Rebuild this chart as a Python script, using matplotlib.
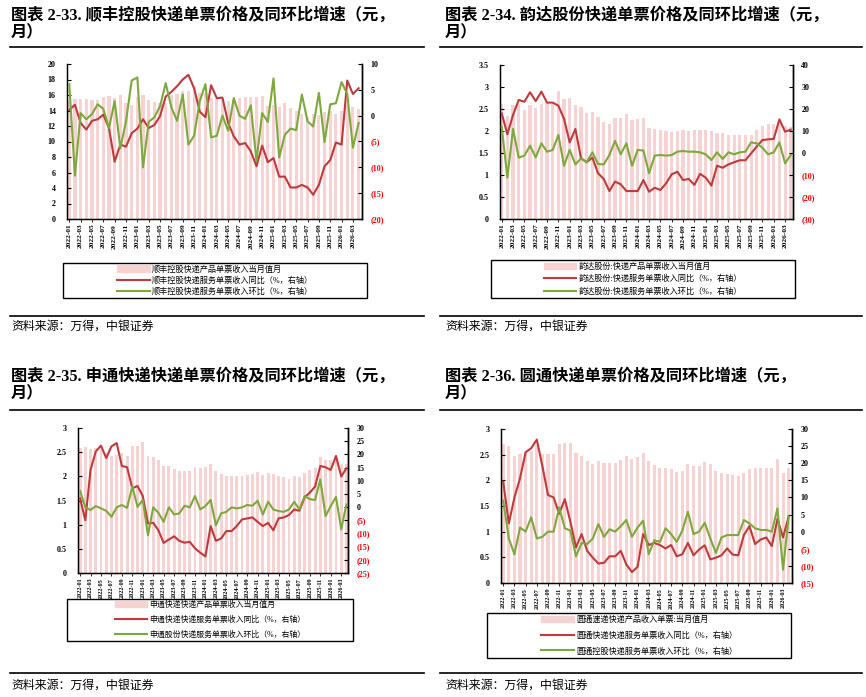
import matplotlib
matplotlib.use("Agg")
import matplotlib.pyplot as plt
from matplotlib.lines import Line2D
from matplotlib.patches import Rectangle
import numpy as np

plt.rcParams['font.family'] = ['Liberation Serif', 'Noto Sans CJK SC']

W, H = 866, 697

# ---------------- data ----------------
months = []
for y in range(2022, 2027):
    for m in range(1, 13):
        months.append(f"{y}-{m:02d}")
months = months[:52]
tick_labels = months[::2]

sf_price = [15.2, 15.5, 15.5, 15.5, 15.4, 15.4, 15.8, 15.9, 15.6, 16.0, 15.0, 14.7, 15.8,
            16.0, 15.4, 15.1, 15.0, 15.0, 16.0, 16.1, 16.5, 16.5, 17.1, 16.2, 16.3, 15.6,
            15.5, 15.5, 15.2, 15.3, 15.6, 15.7, 15.7, 15.7, 15.9, 14.6, 14.7, 14.5, 15.0,
            14.3, 13.9, 13.5, 13.1, 13.5, 13.4, 13.8, 13.9, 13.5, 13.9, 14.7, 14.4, 14.2]
sf_yoy = [1.1, 2.1, -1.4, -2.7, -1.0, -0.7, 0.2, -2.4, -8.9, -5.6, -6.0, -3.4, -2.5,
          -0.7, -2.4, -1.8, -0.1, 3.7, 4.6, 5.7, 7.0, 7.9, 5.3, 0.8, -0.3, 5.9,
          3.4, 3.5, -1.4, -4.0, -5.6, -5.3, -6.9, -9.8, -5.8, -9.0, -8.2, -11.8, -11.8,
          -13.9, -13.9, -13.4, -13.9, -15.3, -13.4, -9.8, -8.6, -5.2, -5.6, 6.8, 4.2, 5.3]
sf_mom = [6.1, -11.6, 0.5, -0.7, 0.3, 2.2, 1.3, -2.4, 2.8, -6.3, -1.1, 6.8, 7.4,
          -10.0, -1.2, -0.3, 1.8, 6.3, 1.6, -1.0, 4.1, -5.6, -3.9, 2.8, 6.1, -4.2,
          -3.9, 0.0, -2.9, 3.4, 0.0, -0.6, 2.0, -8.8, 0.5, -1.2, 7.2, -8.1, -3.7,
          -2.5, -2.8, 4.1, -1.1, -2.1, 4.4, -5.1, 2.2, 2.4, 6.5, 4.2, -6.2, -1.4]

yd_price = [2.62, 2.35, 2.60, 2.62, 2.48, 2.58, 2.52, 2.62, 2.65, 2.62, 2.90, 2.72, 2.75,
            2.60, 2.55, 2.42, 2.44, 2.32, 2.20, 2.17, 2.29, 2.29, 2.38, 2.25, 2.27, 2.29,
            2.07, 2.05, 2.03, 2.00, 1.97, 2.00, 2.02, 2.01, 2.03, 2.03, 2.02, 2.01, 1.95,
            1.95, 1.91, 1.91, 1.91, 1.91, 1.91, 2.02, 2.11, 2.17, 2.16, 2.16, 2.12, 2.08]
yd_yoy = [18.0, 8.5, 17.3, 24.1, 23.3, 27.6, 23.6, 27.9, 22.9, 22.9, 21.5, 15.5, 4.8,
          10.9, -2.4, -4.2, -2.1, -9.2, -11.8, -17.3, -13.0, -14.2, -17.3, -17.3, -17.3, -12.3,
          -17.6, -15.8, -16.8, -13.8, -9.7, -8.5, -12.3, -11.8, -14.5, -9.5, -11.2, -14.8, -5.8,
          -6.7, -5.2, -4.2, -3.3, -3.3, -0.2, 2.9, 5.9, 6.2, 6.4, 15.3, 9.7, 10.6]
yd_mom = [12.0, -11.2, 10.9, -2.1, -1.2, 3.3, -2.0, 4.4, 0.6, 1.4, 8.2, -5.8, 1.4,
          -5.2, -2.4, -4.2, 0.3, -5.0, -5.2, -0.9, 5.5, -0.6, 4.4, -5.8, 1.4, 1.1,
          -9.2, -1.2, -0.9, -1.2, -0.9, 0.6, 0.9, 0.6, 0.6, 0.3, -0.6, -3.2, 0.3,
          -2.7, 0.3, -0.6, 0.3, 0.6, 4.8, 4.4, 2.4, -0.6, 0.3, 4.8, -4.7, -0.9]

st_price = [2.58, 2.60, 2.56, 2.58, 2.56, 2.48, 2.43, 2.45, 2.48, 2.43, 2.63, 2.63, 2.70,
            2.43, 2.41, 2.34, 2.22, 2.22, 2.15, 2.10, 2.12, 2.12, 2.20, 2.18, 2.19, 2.25,
            2.10, 2.05, 2.01, 2.01, 2.00, 2.00, 2.03, 2.04, 2.08, 2.03, 2.07, 2.05, 2.01,
            1.98, 1.94, 2.00, 1.98, 2.07, 2.13, 2.17, 2.41, 2.33, 2.34, 2.33, 2.26, 2.26]
st_yoy = [3.3, -5.0, 14.1, 21.1, 23.3, 18.6, 23.0, 24.3, 15.6, 15.1, 7.1, 8.0, 4.2,
          -6.2, -6.0, -8.8, -13.6, -12.3, -11.1, -12.8, -13.5, -13.2, -15.6, -17.3, -18.7, -7.2,
          -12.8, -11.9, -9.1, -9.1, -7.2, -4.7, -4.3, -3.9, -5.6, -7.2, -6.0, -8.8, -4.3,
          -3.9, -3.0, -0.9, -1.4, 3.7, 5.5, 7.8, 15.6, 15.1, 14.1, 19.4, 11.6, 14.7]
st_mom = [6.1, -0.1, -1.1, 0.4, -0.5, -1.4, -3.7, -0.1, 0.8, -0.3, 7.8, 0.1, 2.7,
          -10.7, -0.1, -2.2, -5.6, -0.1, -2.8, -2.4, 0.5, -0.1, 4.2, -0.9, 0.4, 2.7,
          -6.9, -2.4, -1.8, -0.1, -0.5, -0.1, 0.8, 0.5, 2.4, -2.8, 2.0, -0.9, -1.5,
          -1.8, -0.9, 2.0, -0.9, 4.2, 3.0, 2.7, 10.5, -3.4, 0.4, 3.9, -8.4, 1.0]

yt_price = [2.71, 2.67, 2.48, 2.52, 2.56, 2.58, 2.69, 2.52, 2.52, 2.52, 2.71, 2.73, 2.73,
            2.53, 2.47, 2.37, 2.32, 2.37, 2.34, 2.34, 2.34, 2.39, 2.47, 2.41, 2.45, 2.54,
            2.37, 2.30, 2.24, 2.25, 2.23, 2.17, 2.19, 2.32, 2.28, 2.28, 2.35, 2.32, 2.19,
            2.14, 2.12, 2.11, 2.09, 2.15, 2.22, 2.24, 2.24, 2.25, 2.25, 2.41, 2.14, 2.24]
yt_yoy = [14.6, 2.4, 10.0, 15.6, 23.2, 24.4, 26.9, 19.1, 10.7, 10.0, 5.2, 9.5, 2.9,
          -4.6, -0.7, -5.6, -7.6, -9.3, -9.1, -7.2, -7.2, -5.6, -9.6, -11.8, -10.3, -0.7,
          -3.9, -3.3, -3.9, -4.9, -3.9, -7.2, -6.6, -3.3, -6.9, -5.2, -4.0, -8.1, -7.6,
          -6.9, -4.9, -6.7, -6.9, -1.0, 1.6, -3.6, -2.3, -1.7, -4.2, 3.7, -1.7, 4.4]
yt_mom = [9.1, -2.0, -6.6, 1.2, 0.0, 4.2, -2.0, -1.5, 0.0, 0.0, 7.1, 1.0, 0.3,
          -7.2, -3.3, -3.6, -2.0, 2.2, -1.5, 0.7, 0.0, 1.6, 3.4, -1.5, 1.2, 3.2,
          -6.6, -2.5, -3.0, 1.0, -0.7, -3.0, 0.3, 5.8, -0.7, 0.0, 2.6, -2.0, -6.2,
          -1.7, -1.0, -1.0, -1.0, 3.4, 2.4, 1.0, 0.5, 0.5, 0.0, 6.8, -11.1, 4.4]

titles = ["图表 2-33. 顺丰控股快递单票价格及同环比增速（元，\n月）",
          "图表 2-34. 韵达股份快递单票价格及同环比增速（元，\n月）",
          "图表 2-35. 申通快递快递单票价格及同环比增速（元，\n月）",
          "图表 2-36. 圆通快递单票价格及同环比增速（元，\n月）"]
legends = [["顺丰控股快递产品单票收入当月值月",
            "顺丰控股快递服务单票收入同比（%，右轴）",
            "顺丰控股快递服务单票收入环比（%，右轴）"],
           ["韵达股份:快递产品单票收入当月值月",
            "韵达股份:快递服务单票收入同比（%，右轴）",
            "韵达股份:快递服务单票收入环比（%，右轴）"],
           ["申通快递快递产品单票收入当月值月",
            "申通快递快递服务单票收入同比（%，右轴）",
            "申通股份快递服务单票收入环比（%，右轴）"],
           ["圆通速递快递产品收入单票:当月值月",
            "圆通快递快递服务单票收入同比（%，右轴）",
            "圆通控股快递服务单票收入环比（%，右轴）"]]
source = "资料来源：万得，中银证券"

BAR_C = '#F6D2D2'
RED_C = '#C0393B'
GRN_C = '#7DA83C'

fig = plt.figure(figsize=(W / 100, H / 100), dpi=100)


def fx(x):
    return x / W


def fy(y):
    return 1 - y / H


def hline(x0, x1, y, lw=1.2):
    fig.add_artist(Line2D([fx(x0), fx(x1)], [fy(y), fy(y)], color='black', lw=lw,
                          transform=fig.transFigure))


def panel(rect, price, yoy, mom, lticks, rticks, xlim, legend_labels, box, lspace,
          xfs, lfs):
    l, t, r, b = rect
    ax = fig.add_axes([fx(l), fy(b), fx(r) - fx(l), fy(t) - fy(b)])
    x = np.arange(len(price))
    ax.bar(x, price, width=0.55, color=BAR_C, zorder=1)
    ax.set_xlim(*xlim)
    ax.set_ylim(lticks[0], lticks[-1])
    ax.set_yticks(lticks)
    ax.set_yticklabels([f"{v:g}" for v in lticks], fontsize=5.8, fontweight='bold')
    ax.set_xticks(x[::2])
    ax.set_xticklabels(tick_labels, rotation=90, fontsize=xfs, fontweight='bold')
    ax.tick_params(axis='y', direction='in', length=3, width=0.8, pad=8)
    ax.tick_params(axis='x', direction='out', length=2, width=0.6, pad=1.5)
    ax.spines['top'].set_visible(False)
    for s in ['left', 'bottom', 'right']:
        ax.spines[s].set_linewidth(1.0)
    ax2 = ax.twinx()
    ax2.plot(x, yoy, color=RED_C, lw=1.5, zorder=3)
    ax2.plot(x, mom, color=GRN_C, lw=1.5, zorder=4)
    ax2.set_ylim(rticks[0], rticks[-1])
    ax2.set_yticks(rticks)
    ax2.set_yticklabels([f"({abs(v)})" if v < 0 else f"{v}" for v in rticks],
                        fontsize=5.8, fontweight='bold')
    for lab, v in zip(ax2.get_yticklabels(), rticks):
        if v < 0:
            lab.set_color('#FF0000')
    ax2.tick_params(axis='y', direction='in', length=3, width=0.8, pad=6)
    ax2.spines['top'].set_visible(False)
    ax2.spines['right'].set_linewidth(1.0)
    ax2.set_xlim(*xlim)

    bl, bt, br, bb = box
    fig.add_artist(Rectangle((fx(bl), fy(bb)), fx(br) - fx(bl), fy(bt) - fy(bb),
                             transform=fig.transFigure, fill=False, ec='black', lw=1.0))
    handles = [Rectangle((0, 0), 1, 1, color=BAR_C),
               Line2D([], [], color=RED_C, lw=1.5),
               Line2D([], [], color=GRN_C, lw=1.5)]
    fig.legend(handles, legend_labels, loc='center',
               bbox_to_anchor=(fx((bl + br) / 2), fy((bt + bb) / 2)),
               frameon=False, fontsize=lfs, handlelength=4.0, handleheight=0.8,
               labelspacing=lspace, handletextpad=0.3, borderpad=0.2)


panel((67, 64, 362, 219), sf_price, sf_yoy, sf_mom,
      list(range(0, 21, 2)), list(range(-20, 11, 5)), (-0.4, 51.6),
      legends[0], (63, 263, 367, 298), 0.35, 5.3, 5.9)
panel((500, 65, 793, 219), yd_price, yd_yoy, yd_mom,
      [0, 0.5, 1, 1.5, 2, 2.5, 3, 3.5], list(range(-30, 41, 10)), (-0.3, 51.4),
      legends[1], (491, 260, 795, 298), 0.5, 5.3, 5.9)
panel((78, 428, 348, 573), st_price, st_yoy, st_mom,
      [0, 0.5, 1, 1.5, 2, 2.5, 3], list(range(-25, 31, 5)), (-0.4, 51.3),
      legends[2], (67, 599, 353, 641), 0.85, 4.4, 5.7)
panel((501, 429, 792, 583), yt_price, yt_yoy, yt_mom,
      [0, 0.5, 1, 1.5, 2, 2.5, 3], list(range(-15, 31, 5)), (-0.4, 51.6),
      legends[3], (487, 613, 791, 658), 0.9, 4.4, 5.9)

# titles, rules, sources
title_pos = [(11, 7), (445, 7), (11, 368), (445, 368)]
for (tx, ty), tt in zip(title_pos, titles):
    fig.text(fx(tx), fy(ty), tt, ha='left', va='top', fontsize=11.7,
             fontweight='bold', linespacing=1.15)

hline(10, 424, 47)
hline(440, 862, 47)
hline(10, 424, 410)
hline(440, 862, 410)
hline(10, 424, 316)
hline(440, 862, 316)
hline(10, 424, 673)
hline(440, 862, 673)

for sx, sy in [(11, 327), (445, 327), (11, 686), (445, 686)]:
    fig.text(fx(sx), fy(sy), source, ha='left', va='center', fontsize=8.6,
             style='italic')

fig.savefig("out.png", dpi=100)
